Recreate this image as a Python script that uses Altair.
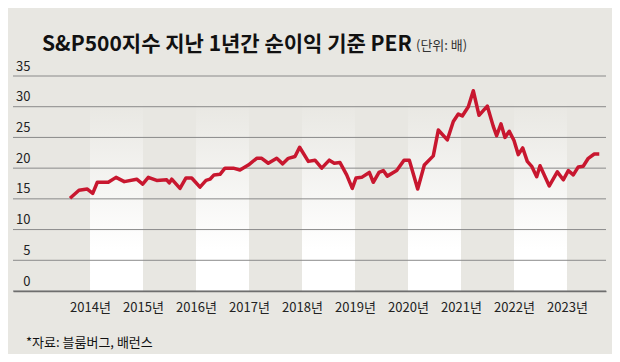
import altair as alt
import pandas as pd

# ---- data ----
years = [2013.623, 2013.792, 2013.949, 2014.051, 2014.138, 2014.345, 2014.491, 2014.647,
         2014.881, 2014.994, 2015.100, 2015.258, 2015.447, 2015.496, 2015.542, 2015.698,
         2015.811, 2015.919, 2016.075, 2016.189, 2016.264, 2016.340, 2016.453, 2016.547,
         2016.704, 2016.830, 2016.987, 2017.145, 2017.240, 2017.364, 2017.523, 2017.636,
         2017.742, 2017.868, 2017.955, 2018.119, 2018.245, 2018.372, 2018.515, 2018.609,
         2018.717, 2018.843, 2018.949, 2019.019, 2019.126, 2019.270, 2019.345, 2019.453,
         2019.534, 2019.609, 2019.787, 2019.925, 2020.025, 2020.183, 2020.308, 2020.477,
         2020.572, 2020.742, 2020.855, 2020.949, 2021.025, 2021.138, 2021.232, 2021.340,
         2021.496, 2021.609, 2021.672, 2021.755, 2021.830, 2021.911, 2022.000, 2022.081,
         2022.164, 2022.251, 2022.334, 2022.428, 2022.491, 2022.666, 2022.817, 2022.930,
         2023.025, 2023.119, 2023.213, 2023.306, 2023.402, 2023.515, 2023.609]
per = [15.1, 16.4, 16.6, 15.9, 17.7, 17.7, 18.5, 17.8,
       18.2, 17.4, 18.5, 18.0, 18.1, 17.6, 18.2, 16.7,
       18.4, 18.4, 16.9, 18.0, 18.2, 18.9, 19.0, 20.0,
       20.0, 19.7, 20.5, 21.6, 21.6, 20.8, 21.6, 20.7,
       21.6, 21.9, 23.4, 21.1, 21.3, 20.0, 21.3, 20.8,
       20.9, 18.9, 16.7, 18.4, 18.5, 19.3, 17.7, 19.3,
       19.6, 18.7, 19.6, 21.3, 21.3, 16.6, 20.5, 22.0,
       26.2, 24.6, 27.6, 28.8, 28.5, 30.0, 32.6, 28.6,
       30.1, 26.8, 25.3, 27.2, 25.0, 26.0, 24.5, 22.2,
       23.3, 21.1, 20.3, 18.6, 20.4, 17.1, 19.4, 18.1,
       19.6, 18.9, 20.2, 20.3, 21.6, 22.3, 22.3]

year_ticks = [2014, 2015, 2016, 2017, 2018, 2019, 2020, 2021, 2022, 2023]
y_ticks = [0, 5, 10, 15, 20, 25, 30, 35]
band_starts = [2014, 2016, 2018, 2020, 2022]
band_ends = [2015, 2017, 2019, 2021, 2023]

title_text = "S&P500지수 지난 1년간 순이익 기준 PER"
unit_text = "(단위: 배)"
source_text = "*자료: 블룸버그, 배런스"

BG = "#e8e7e2"
FONT = "Noto Sans CJK KR"

line_df = pd.DataFrame({"yr": years, "per": per})
band_df = pd.DataFrame({"x0": band_starts, "x1": band_ends, "top": [31] * 5, "bot": [0] * 5})
grid_df = pd.DataFrame({"v": y_ticks})

xscale = alt.Scale(domain=[2012.547, 2023.736], nice=False, zero=False)
yscale = alt.Scale(domain=[0, 35], nice=False)

x_axis = alt.Axis(values=year_ticks, labelExpr="datum.value + '년'", title=None,
                  grid=False, ticks=False, tickSize=0, domain=True,
                  domainColor="#6e6e6e", domainWidth=1.5, labelOverlap=False,
                  labelFont=FONT, labelFontSize=13, labelColor="#222222",
                  labelBaseline="alphabetic", labelPadding=20, zindex=1)
y_axis = alt.Axis(values=y_ticks, title=None, grid=False, ticks=False, tickSize=0,
                  domain=False, labelFont=FONT, labelFontSize=13, labelOverlap=False,
                  labelColor="#222222", labelAlign="right",
                  labelBaseline="alphabetic", labelPadding=-17, labelOffset=-6)

grad = alt.LinearGradient(
    gradient="linear",
    stops=[alt.GradientStop(color=BG, offset=0),
           alt.GradientStop(color="#ffffff", offset=0.78),
           alt.GradientStop(color="#ffffff", offset=1)],
    x1=0, x2=0, y1=0, y2=1,
)

bands = alt.Chart(band_df).mark_rect(color=grad).encode(
    x=alt.X("x0:Q", scale=xscale, axis=x_axis),
    x2="x1:Q",
    y=alt.Y("top:Q", scale=yscale, axis=y_axis),
    y2="bot:Q",
)

grid = alt.Chart(grid_df).mark_rule(color="#8a8a8a", strokeWidth=1).encode(
    y=alt.Y("v:Q", scale=yscale, axis=y_axis)
)

line = alt.Chart(line_df).mark_line(color="#c8172f", strokeWidth=3.5, strokeJoin="round").encode(
    x=alt.X("yr:Q", scale=xscale, axis=x_axis),
    y=alt.Y("per:Q", scale=yscale, axis=y_axis),
)

title = alt.Chart(pd.DataFrame({"t": [title_text]})).mark_text(
    font=FONT, fontSize=21, fontWeight="bold", color="#111111", align="left",
    baseline="alphabetic"
).encode(text="t:N", x=alt.value(29), y=alt.value(-25))

unit = alt.Chart(pd.DataFrame({"t": [unit_text]})).mark_text(
    font=FONT, fontSize=13, color="#333333", align="left", baseline="alphabetic"
).encode(text="t:N", x=alt.value(403), y=alt.value(-26))

source = alt.Chart(pd.DataFrame({"t": [source_text]})).mark_text(
    font=FONT, fontSize=13, color="#111111", align="left", baseline="alphabetic"
).encode(text="t:N", x=alt.value(13), y=alt.value(271))

chart = alt.layer(bands, grid, line, title, unit, source).properties(
    width=593, height=215,
    autosize=alt.AutoSizeParams(type="none"),
    padding={"left": 5, "top": 68, "right": 6, "bottom": 63},
    background=BG,
).configure_view(stroke=None)

chart.save("out.html", embed_options={"renderer": "svg", "actions": False})
